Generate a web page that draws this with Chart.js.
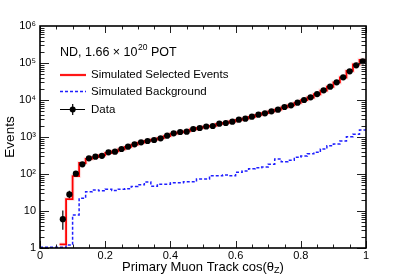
<!DOCTYPE html>
<html><head><meta charset="utf-8">
<script src="https://cdn.jsdelivr.net/npm/chart.js@4"></script>
<style>html,body{margin:0;padding:0;background:#fff;}#wrap{width:407px;height:276px;position:relative;}</style>
</head><body><div id="wrap"><canvas id="c" width="407" height="276"></canvas></div>
<script>
// ---- data (50 bins of width 0.02 in cos(theta_z)) ----
const binWidth = 0.02;
const nBins = 50;
const dataCounts = [null,null,null,6,28,102,183,265,294,310,
  386,401,474,547,634,719,780,830,923,1084,
  1259,1365,1390,1644,1750,1920,1983,2290,2390,2595,
  2937,3125,3540,4008,4375,4955,5470,6470,7190,8450,
  10000,11800,14500,18300,22900,30100,41000,59700,86700,111000];
const dataErrLow  = [null,null,null,3.1,22,null,null,null,null,null];
const dataErrHigh = [null,null,null,10.3,35,null,null,null,null,null];
const simSelected = [null,null,null,1.26,21,88,198,255,285,318,
  370,410,465,540,625,705,790,850,930,1060,
  1230,1340,1420,1610,1760,1900,2010,2250,2420,2620,
  2900,3150,3500,3950,4400,4900,5500,6350,7200,8350,
  9900,11700,14300,18000,22800,29800,40500,61000,92000,122000];
const simBackground = [1.05,1.05,1.05,1.05,1.2,7.8,22,33,37,35,
  39,36,39,40,46,51,61,47,53,53,
  58,58,62,62,73,73,90,90,94,90,
  111,121,139,148,155,183,254,216,235,282,
  308,354,385,474,580,646,779,1016,1182,1540];
const xTickValues = [0,0.2,0.4,0.6,0.8,1];
const xTickLabels = ['0','0.2','0.4','0.6','0.8','1'];
const yTickValues = [1,10,100,1000,10000,100000,1000000];
const yTickLabels = ['1','10','10\u00B2','10\u00B3','10\u2074','10\u2075','10\u2076'];

const FONT = '"Liberation Sans", Arial, Helvetica, sans-serif';
const edges = Array.from({length: nBins + 1}, (_, i) => Math.round(i * binWidth * 100) / 100);
function stepPoints(vals) {
  const pts = vals.map((v, i) => ({x: edges[i], y: v}));
  pts.push({x: edges[nBins], y: vals[nBins - 1]});
  return pts;
}
const dataPts = dataCounts.map((v, i) => ({x: edges[i] + binWidth / 2, y: v}));

const rootStyle = {
  id: 'rootStyle',
  afterDatasetsDraw(chart) {
    const ctx = chart.ctx, a = chart.chartArea, xs = chart.scales.x, ys = chart.scales.y;
    ctx.save();
    // error bars
    ctx.strokeStyle = '#000'; ctx.lineWidth = 1.2;
    for (let i = 0; i < dataErrLow.length; i++) {
      if (dataErrLow[i] == null || dataCounts[i] == null) continue;
      const px = xs.getPixelForValue(edges[i] + binWidth / 2);
      ctx.beginPath();
      ctx.moveTo(px, ys.getPixelForValue(dataErrLow[i]));
      ctx.lineTo(px, ys.getPixelForValue(dataErrHigh[i]));
      ctx.stroke();
    }
    // ticks
    ctx.strokeStyle = '#222'; ctx.lineWidth = 1;
    for (let k = 0; k <= 20; k++) {
      const v = k * 0.05;
      const major = k % 4 === 0;
      const len = major ? 7 : 3.5;
      const px = Math.round(xs.getPixelForValue(v)) + 0.5;
      ctx.beginPath();
      ctx.moveTo(px, a.bottom); ctx.lineTo(px, a.bottom - len);
      ctx.moveTo(px, a.top); ctx.lineTo(px, a.top + len);
      ctx.stroke();
    }
    for (let d = 0; d < 6; d++) {
      for (let m = 1; m <= 9; m++) {
        const v = m * Math.pow(10, d);
        const len = m === 1 ? 9 : 4.5;
        const py = Math.round(ys.getPixelForValue(v)) + 0.5;
        ctx.beginPath();
        ctx.moveTo(a.left, py); ctx.lineTo(a.left + len, py);
        ctx.moveTo(a.right, py); ctx.lineTo(a.right - len, py);
        ctx.stroke();
      }
    }
    // frame
    ctx.strokeStyle = '#000'; ctx.lineWidth = 1.6;
    ctx.strokeRect(a.left, a.top, a.right - a.left, a.bottom - a.top);
    ctx.restore();
  },
  afterDraw(chart) {
    const ctx = chart.ctx, a = chart.chartArea;
    ctx.save();
    ctx.fillStyle = '#000';
    ctx.textBaseline = 'middle';
    // x title with subscript
    const f1 = '13px ' + FONT, fs = '9px ' + FONT;
    ctx.font = f1;
    const p1 = 'Primary Muon Track cos(\u03B8', p2 = 'Z', p3 = ')';
    const w1 = ctx.measureText(p1).width, w3 = ctx.measureText(p3).width;
    ctx.font = fs; const w2 = ctx.measureText(p2).width;
    let x0 = (a.left + a.right) / 2 - (w1 + w2 + w3) / 2;
    const ty = 267;
    ctx.font = f1; ctx.textAlign = 'left'; ctx.fillText(p1, x0, ty);
    ctx.font = fs; ctx.fillText(p2, x0 + w1, ty + 3.5);
    ctx.font = f1; ctx.fillText(p3, x0 + w1 + w2, ty);
    // y title
    ctx.save();
    ctx.translate(10, (a.top + a.bottom) / 2);
    ctx.rotate(-Math.PI / 2);
    ctx.textAlign = 'center';
    ctx.font = '13.5px ' + FONT;
    ctx.fillText('Events', 0, 0);
    ctx.restore();
    // legend header
    ctx.textAlign = 'left';
    let lx = 60, ly = 53;
    ctx.font = '12.5px ' + FONT;
    const h1 = 'ND, 1.66 \u00D7 10';
    ctx.fillText(h1, lx, ly);
    lx += ctx.measureText(h1).width;
    ctx.font = '8.5px ' + FONT;
    ctx.fillText('20', lx + 0.5, ly - 5);
    lx += ctx.measureText('20').width + 0.5;
    ctx.font = '12.5px ' + FONT;
    ctx.fillText(' POT', lx, ly);
    // legend entries
    const sx0 = 60, sx1 = 86, tx = 91;
    ctx.font = '11.5px ' + FONT;
    // red
    let y = 75;
    ctx.strokeStyle = 'rgba(255,80,80,0.15)'; ctx.lineWidth = 4;
    ctx.beginPath(); ctx.moveTo(sx0, y); ctx.lineTo(sx1, y); ctx.stroke();
    ctx.strokeStyle = '#ff0000'; ctx.lineWidth = 1.8;
    ctx.beginPath(); ctx.moveTo(sx0, y); ctx.lineTo(sx1, y); ctx.stroke();
    ctx.fillText('Simulated Selected Events', tx, y);
    // blue
    y = 91.5;
    ctx.strokeStyle = '#1f1fff'; ctx.lineWidth = 1.5; ctx.setLineDash([3, 2]);
    ctx.beginPath(); ctx.moveTo(sx0, y); ctx.lineTo(sx1, y); ctx.stroke();
    ctx.setLineDash([]);
    ctx.fillText('Simulated Background', tx, y);
    // data
    y = 109.5;
    ctx.strokeStyle = '#000'; ctx.lineWidth = 1.2;
    ctx.beginPath(); ctx.moveTo(sx0, y); ctx.lineTo(sx1 - 1, y);
    ctx.moveTo(72.7, y - 5.5); ctx.lineTo(72.7, y + 5.5); ctx.stroke();
    ctx.beginPath(); ctx.arc(72.7, y, 3, 0, Math.PI * 2); ctx.fill();
    ctx.fillText('Data', tx, y);
    ctx.restore();
  }
};

new Chart(document.getElementById('c').getContext('2d'), {
  type: 'line',
  data: {
    datasets: [
      {label: 'Data', data: dataPts, showLine: false, pointRadius: 3.1, pointHoverRadius: 3.1,
       pointBackgroundColor: '#000', pointBorderColor: '#000', pointBorderWidth: 0},
      {label: 'Simulated Selected Events', data: stepPoints(simSelected), stepped: true,
       borderColor: '#ff0000', borderWidth: 1.8, pointRadius: 0, fill: false},
      {label: 'band', data: stepPoints(simSelected), stepped: true,
       borderColor: 'rgba(255,80,80,0.15)', borderWidth: 4, pointRadius: 0, fill: false},
      {label: 'Simulated Background', data: stepPoints(simBackground), stepped: true,
       borderColor: '#1f1fff', borderWidth: 1.5, borderDash: [3, 2], pointRadius: 0, fill: false}
    ]
  },
  options: {
    responsive: false, animation: false, devicePixelRatio: 1,
    layout: {padding: {left: 0, right: 41, top: 26, bottom: 0}},
    plugins: {legend: {display: false}, tooltip: {enabled: false}},
    scales: {
      x: {
        type: 'linear', min: 0, max: 1,
        afterBuildTicks: s => { s.ticks = xTickValues.map(v => ({value: v})); },
        afterFit: s => { s.height = 28; },
        ticks: {callback: (v, i) => xTickLabels[i], color: '#000', padding: 1, maxRotation: 0,
                autoSkip: false, font: {family: FONT, size: 11}},
        grid: {display: false, drawTicks: false}, border: {display: false}
      },
      y: {
        type: 'logarithmic', min: 1, max: 1000000,
        afterBuildTicks: s => { s.ticks = yTickValues.map(v => ({value: v})); },
        afterFit: s => { s.width = 40; },
        ticks: {callback: (v, i) => yTickLabels[i], color: '#000', padding: 4, autoSkip: false,
                font: {family: FONT, size: 11}},
        grid: {display: false, drawTicks: false}, border: {display: false}
      }
    }
  },
  plugins: [rootStyle]
});
</script></body></html>
